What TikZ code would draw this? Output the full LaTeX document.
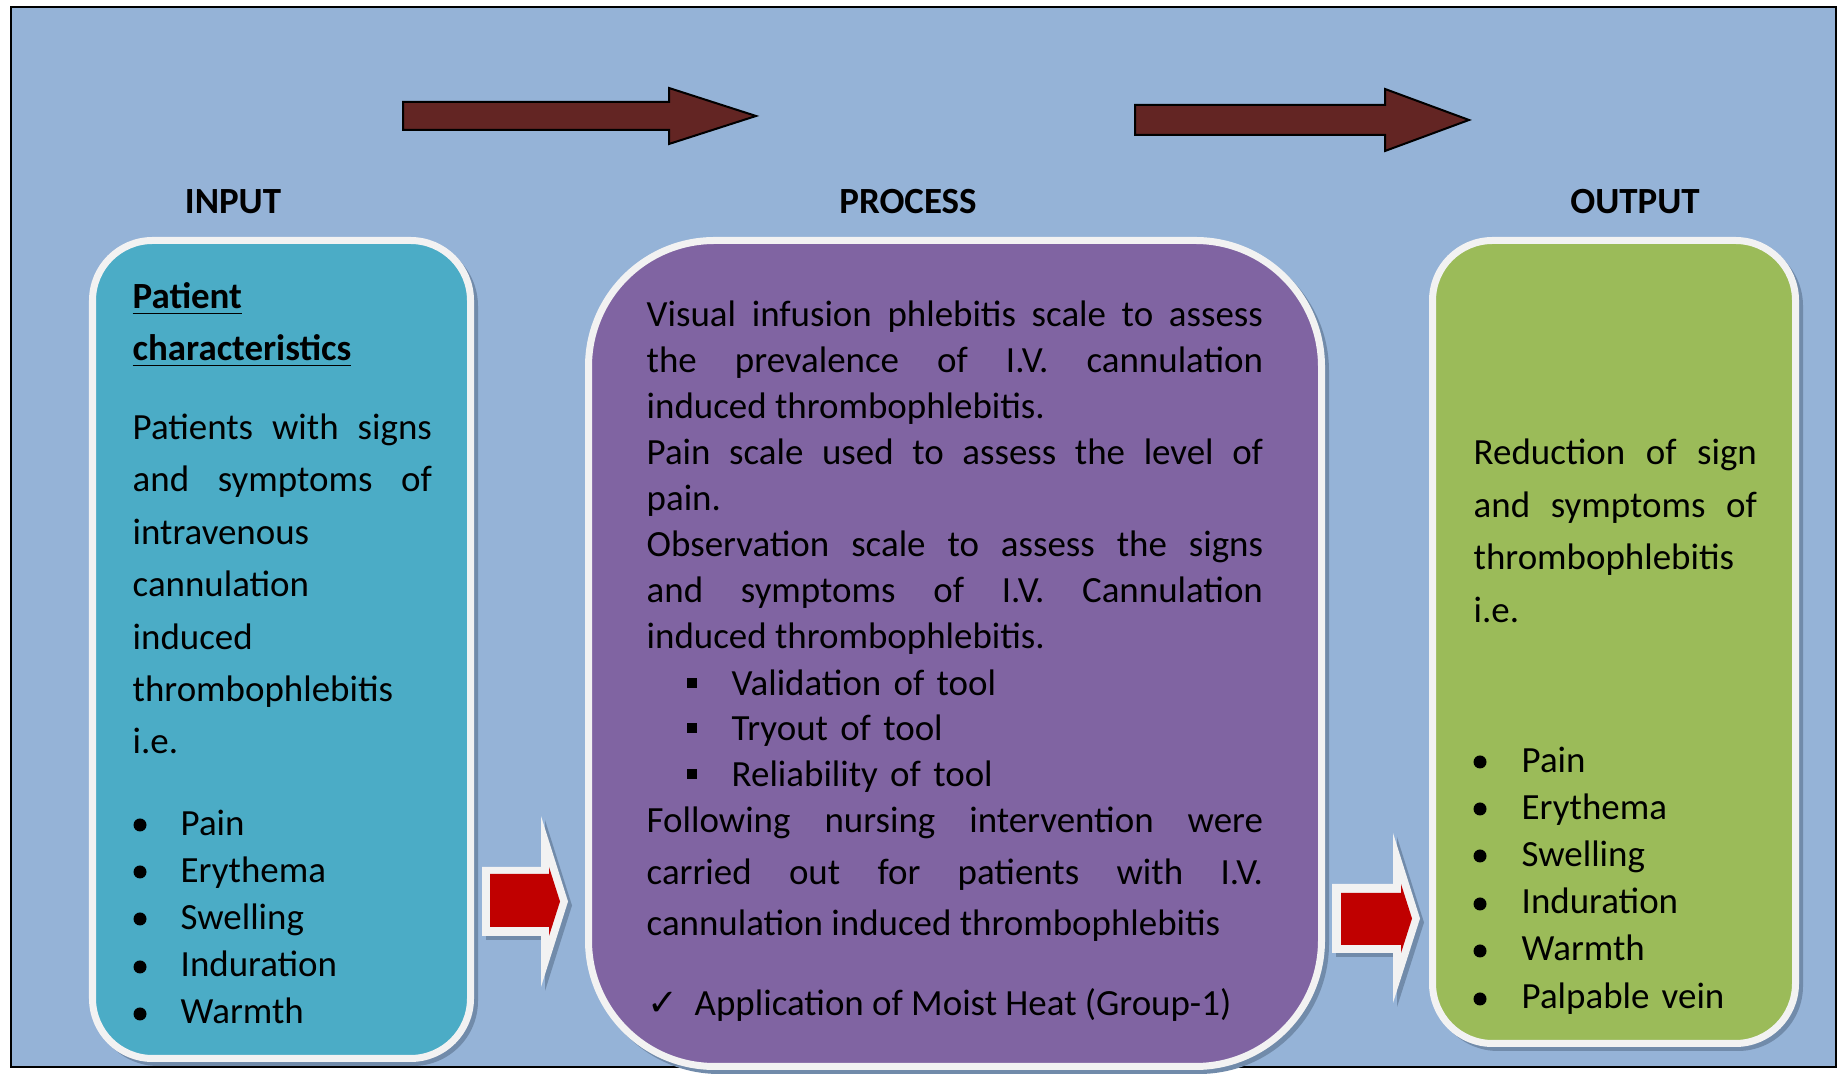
\documentclass[tikz,border=0pt]{standalone}
\usepackage{fontspec}
\setmainfont{Carlito}
\newfontfamily\ticksym{DejaVu Sans}
\usepackage{xcolor}
\usepackage{tikz}
\usetikzlibrary{shapes,arrows,positioning}

\definecolor{pagebg}{HTML}{95B3D7}
\definecolor{inputfill}{HTML}{4BACC6}
\definecolor{processfill}{HTML}{8064A2}
\definecolor{outputfill}{HTML}{9BBB59}
\definecolor{rimwhite}{HTML}{F2F2F2}
\definecolor{shadowblue}{HTML}{718BAA}
\definecolor{flowbrown}{HTML}{632523}
\definecolor{blockred}{HTML}{C00000}

\begin{document}
\begin{tikzpicture}[
    x=0.01cm, y=-0.01cm,
    rim/.style={line width=0.07cm, draw=rimwhite},
    drop/.style={fill=shadowblue},
    title/.style={inner sep=0pt, font=\fontsize{10.5}{13}\selectfont\bfseries},
    para/.style={anchor=base west, inner sep=0pt, align=justify},
    listing/.style={anchor=base west, inner sep=0pt, align=left},
    oneline/.style={anchor=base west, inner sep=0pt, font=\fontsize{10.5}{13}\selectfont}
]
    \useasboundingbox (0,0) rectangle (1839,1074);

    % background frame
    \draw[
        line width=0.025cm,
        fill=pagebg
    ] (11,7) rectangle (1836,1067);

    % arrows along the top
    \draw[
        line width=0.02cm,
        fill=flowbrown
    ] (403,102) -- (669,102) -- (669,88) -- (756,116) -- (669,144) -- (669,130) -- (403,130) -- cycle;

    \draw[
        line width=0.02cm,
        fill=flowbrown
    ] (1135,105) -- (1385,105) -- (1385,89) -- (1469,120) -- (1385,151) -- (1385,135) -- (1135,135) -- cycle;

    % input box
    \fill[drop, rounded corners=0.65cm] (93,241) rectangle (478,1066);
    \draw[
        rim,
        rounded corners=0.6cm,
        fill=inputfill
    ] (92.5,240.5) rectangle (470.5,1058.5);

    % process box
    \fill[drop, rounded corners=1.3cm] (589,241) rectangle (1329,1074);
    \draw[
        rim,
        rounded corners=1.26cm,
        fill=processfill
    ] (588.5,240.5) rectangle (1321.5,1066.5);

    % output box
    \fill[drop, rounded corners=0.65cm] (1433,241) rectangle (1803,1051);
    \draw[
        rim,
        rounded corners=0.6cm,
        fill=outputfill
    ] (1432.5,240.5) rectangle (1795.5,1043.5);

    % block arrows between the boxes
    \fill[drop, shift={(4,4)}] (482,867) -- (541,867) -- (541,816) -- (568,901.5) -- (541,987) -- (541,936) -- (482,936) -- cycle;
    \fill[rimwhite] (482,867) -- (541,867) -- (541,816) -- (568,901.5) -- (541,987) -- (541,936) -- (482,936) -- cycle;
    \fill[blockred] (490,874) -- (549,874) -- (549,867) -- (560,901.5) -- (549,936) -- (549,927) -- (490,927) -- cycle;

    \fill[drop, shift={(4,4)}] (1332,884) -- (1393,884) -- (1393,833) -- (1420,918.5) -- (1393,1003) -- (1393,953) -- (1332,953) -- cycle;
    \fill[rimwhite] (1332,884) -- (1393,884) -- (1393,833) -- (1420,918.5) -- (1393,1003) -- (1393,953) -- (1332,953) -- cycle;
    \fill[blockred] (1341,893) -- (1401,893) -- (1401,884) -- (1412,918.5) -- (1401,953) -- (1401,945) -- (1341,945) -- cycle;

    % headings
    \node[title] (intitle) at (233,202) {INPUT};
    \node[title] (proctitle) at (908,202) {PROCESS};
    \node[title] (outtitle) at (1635,202) {OUTPUT};

    % input text
    \node[para, text width=2.99cm, font=\fontsize{10.5}{14.8}\selectfont\bfseries] (patient) at (132,308.5)
        {\underline{Patient}\\ \underline{characteristics}};
    \node[para, text width=2.99cm, font=\fontsize{10.5}{14.9}\selectfont] (signs) at (132,439.5)
        {Patients with signs\linebreak and symptoms of\linebreak intravenous\\ cannulation\\ induced\\ thrombophlebitis\\ i.e.};
    \foreach \yy in {825,872,919,967,1014}
        \fill (140,\yy) circle (6.5);
    \node[listing, text width=2.5cm, font=\fontsize{10.5}{13.4}\selectfont] (inlist) at (180,835.5)
        {Pain\\ Erythema\\ Swelling\\ Induration\\ Warmth};

    % process text
    \node[para, text width=6.16cm, font=\fontsize{10.5}{13.1}\selectfont] (scales) at (646,326.5)
        {Visual infusion phlebitis scale to assess\linebreak the prevalence of I.V. cannulation\linebreak induced thrombophlebitis.\\
         Pain scale used to assess the level of\linebreak pain.\\
         Observation scale to assess the signs\linebreak and symptoms of I.V. Cannulation\linebreak induced thrombophlebitis.};
    \foreach \yy in {678,723.5,769}
        \fill (687,\yy) rectangle ++(10,10);
    \node[listing, text width=4cm, font=\fontsize{10.5}{12.9}\selectfont] (tools) at (731,695.5)
        {Validation of tool\\ Tryout of tool\\ Reliability of tool};
    \node[para, text width=6.16cm, font=\fontsize{10.5}{14.7}\selectfont] (nursing) at (646,832.5)
        {Following nursing intervention were\linebreak carried out for patients with I.V.\linebreak cannulation induced thrombophlebitis};
    \node[oneline] (tick) at (647,1016) {\ticksym ✓};
    \node[oneline] (moist) at (694,1016) {Application of Moist Heat (Group-1)};

    % output text
    \node[para, text width=2.83cm, font=\fontsize{10.5}{14.9}\selectfont] (reduce) at (1473,465)
        {Reduction of sign\linebreak and symptoms of\linebreak thrombophlebitis\\ i.e.};
    \foreach \yy in {762,809,856,904,951,999}
        \fill (1480,\yy) circle (6.5);
    \node[listing, text width=2.6cm, font=\fontsize{10.5}{13.4}\selectfont] (outlist) at (1521,772.5)
        {Pain\\ Erythema\\ Swelling\\ Induration\\ Warmth\\ Palpable vein};

\end{tikzpicture}
\end{document}
